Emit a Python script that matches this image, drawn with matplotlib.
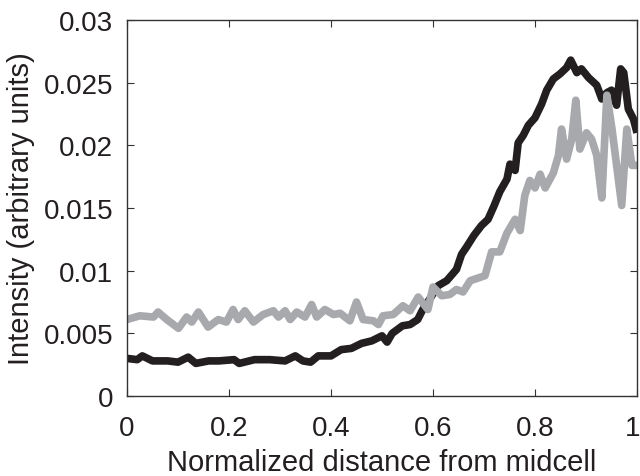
import matplotlib
matplotlib.use('Agg')
import matplotlib.pyplot as plt
from matplotlib import rcParams
from matplotlib.transforms import ScaledTranslation

rcParams['font.family'] = ['Liberation Sans', 'DejaVu Sans']
rcParams['font.size'] = 20

# black profile
black_x = [0.00, 0.02, 0.03, 0.05, 0.08, 0.10, 0.12, 0.135, 0.16, 0.18,
           0.21, 0.22, 0.25, 0.28, 0.31, 0.33, 0.345, 0.36, 0.375, 0.40,
           0.42, 0.44, 0.46, 0.48, 0.50, 0.51, 0.52, 0.54, 0.555, 0.57,
           0.58, 0.59, 0.61, 0.627, 0.646, 0.656, 0.666, 0.68, 0.695, 0.708,
           0.72, 0.731, 0.745, 0.751, 0.761, 0.767, 0.777, 0.787, 0.80, 0.813,
           0.823, 0.836, 0.849, 0.862, 0.87, 0.882, 0.891, 0.905, 0.921, 0.931,
           0.941, 0.95, 0.96, 0.968, 0.974, 0.983, 0.993, 1.0]
black_y = [0.0030, 0.0029, 0.0032, 0.0028, 0.0028, 0.0027, 0.0031, 0.0026, 0.0028, 0.0028,
           0.0029, 0.0026, 0.0029, 0.0029, 0.0028, 0.0032, 0.0028, 0.0027, 0.0032, 0.0032,
           0.0037, 0.0038, 0.0042, 0.0044, 0.0048, 0.0043, 0.0050, 0.0056, 0.0057, 0.0061,
           0.0069, 0.0075, 0.0088, 0.0092, 0.0101, 0.0113, 0.0119, 0.0128, 0.0136, 0.0141,
           0.0152, 0.0163, 0.0173, 0.0185, 0.0180, 0.0202, 0.0208, 0.0216, 0.0222, 0.0233,
           0.0244, 0.0253, 0.0257, 0.0262, 0.0268, 0.0258, 0.0261, 0.0254, 0.0248, 0.0237,
           0.0242, 0.0244, 0.0232, 0.0261, 0.0258, 0.0229, 0.0221, 0.0210]

# gray profile
gray_x = [0.00, 0.025, 0.052, 0.061, 0.078, 0.101, 0.117, 0.127, 0.14, 0.159,
          0.179, 0.195, 0.208, 0.218, 0.231, 0.248, 0.267, 0.287, 0.297, 0.31,
          0.32, 0.333, 0.349, 0.362, 0.372, 0.388, 0.405, 0.418, 0.437, 0.45,
          0.463, 0.483, 0.493, 0.502, 0.522, 0.541, 0.555, 0.571, 0.59, 0.60,
          0.617, 0.633, 0.646, 0.659, 0.673, 0.702, 0.715, 0.731, 0.745, 0.761,
          0.771, 0.78, 0.79, 0.80, 0.81, 0.82, 0.836, 0.846, 0.852, 0.862,
          0.872, 0.88, 0.888, 0.901, 0.911, 0.921, 0.931, 0.941, 0.951, 0.97,
          0.98, 0.99, 1.0]
gray_y = [0.0061, 0.0064, 0.0063, 0.0067, 0.0061, 0.0054, 0.0063, 0.0059, 0.0067, 0.0055,
          0.0061, 0.0059, 0.0069, 0.0061, 0.0068, 0.0059, 0.0065, 0.0068, 0.0063, 0.0068,
          0.0061, 0.0067, 0.0063, 0.0073, 0.0063, 0.0069, 0.0065, 0.0066, 0.0060, 0.0075,
          0.0061, 0.0060, 0.0057, 0.0064, 0.0065, 0.0072, 0.0068, 0.0079, 0.0069, 0.0087,
          0.0080, 0.0081, 0.0085, 0.0083, 0.0092, 0.0096, 0.0115, 0.0115, 0.0130, 0.0141,
          0.0132, 0.0160, 0.0172, 0.0166, 0.0177, 0.0166, 0.0178, 0.0192, 0.0213, 0.0189,
          0.0205, 0.0236, 0.0197, 0.0210, 0.0205, 0.0192, 0.0158, 0.0240, 0.0213, 0.0152,
          0.0213, 0.0184, 0.0184]

xticks = [0, 0.2, 0.4, 0.6, 0.8, 1]
xticklabels = ['0', '0.2', '0.4', '0.6', '0.8', '1']
yticks = [0, 0.005, 0.01, 0.015, 0.02, 0.025, 0.03]
yticklabels = ['0', '0.005', '0.01', '0.015', '0.02', '0.025', '0.03']

fig = plt.figure(figsize=(6.4, 4.77), dpi=100)
ax = fig.add_axes([127/640, 80/477, 510/640, 376/477])

ax.plot(black_x, black_y, color='#231f20', linewidth=5.5,
        solid_joinstyle='round', solid_capstyle='butt')
ax.plot(gray_x, gray_y, color='#a7a9ac', linewidth=5.5,
        solid_joinstyle='round', solid_capstyle='butt')

ax.set_xlim(0, 1)
ax.set_ylim(0, 0.03)
ax.set_xticks(xticks)
ax.set_xticklabels(xticklabels)
ax.set_yticks(yticks)
ax.set_yticklabels(yticklabels)
ax.tick_params(axis='both', direction='in', top=True, right=True,
               length=5, width=0.8, color='#333333', labelcolor='#231f20')
ax.tick_params(axis='y', pad=10)
ax.tick_params(axis='x', pad=14)
for s in ax.spines.values():
    s.set_linewidth(1.0)
    s.set_color('#333333')

ax.set_xlabel('Normalized distance from midcell', color='#231f20',
              fontsize=21, labelpad=5)
ax.set_ylabel('Intensity (arbitrary units)', color='#231f20',
              fontsize=21, labelpad=6)

# keep the "1" label inside the figure edge
fig.canvas.draw()
last = ax.get_xticklabels()[-1]
last.set_horizontalalignment('right')
last.set_transform(last.get_transform() +
                   ScaledTranslation(3/100, 0, fig.dpi_scale_trans))

fig.savefig('out.png', dpi=100)
